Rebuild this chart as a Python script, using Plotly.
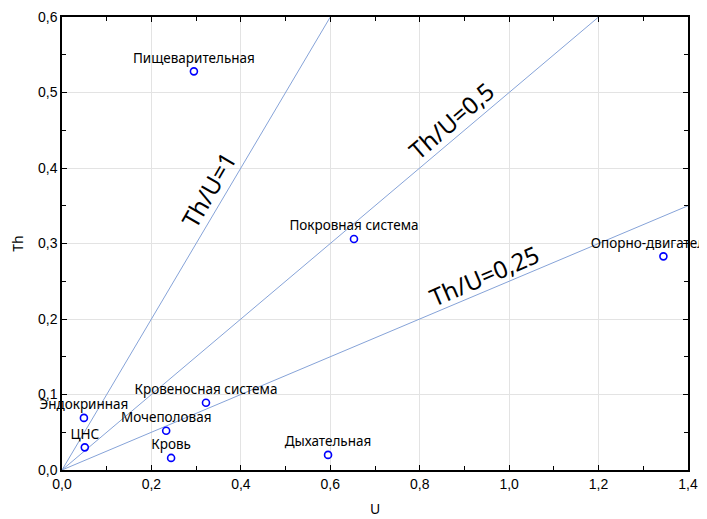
import plotly.graph_objects as go

# systems and their coordinates
systems = ["Пищеварительная", "Покровная система", "Опорно-двигательная",
           "Кровеносная система", "Эндокринная", "Мочеполовая", "ЦНС",
           "Кровь", "Дыхательная"]
u_vals = [0.295, 0.653, 1.345, 0.322, 0.049, 0.233, 0.051, 0.244, 0.595]
th_vals = [0.528, 0.306, 0.283, 0.089, 0.069, 0.052, 0.030, 0.016, 0.020]

# reference ratio lines Th/U
ratios = [1, 0.5, 0.25]
ratio_labels = ["Th/U=1", "Th/U=0,5", "Th/U=0,25"]
label_pos = [(0.327, 0.372, -59.8), (0.870, 0.463, -40.6), (0.944, 0.258, -23.2)]

x_max, y_max = 1.4, 0.6

fig = go.Figure()

for r in ratios:
    x_end = min(x_max, y_max / r)
    fig.add_trace(go.Scatter(
        x=[0, x_end], y=[0, x_end * r], mode="lines",
        line=dict(color="#86a3d8", width=1), hoverinfo="skip"))

fig.add_trace(go.Scatter(
    x=u_vals, y=th_vals, mode="markers+text", text=systems,
    textposition="top center", cliponaxis=False,
    textfont=dict(family="Noto Sans", size=13.5, color="black"),
    marker=dict(symbol="circle-open", size=7, color="#0000ff",
                line=dict(width=1.6, color="#0000ff"))))

for lab, (ax, ay, ang) in zip(ratio_labels, label_pos):
    fig.add_annotation(x=ax, y=ay, text=lab, showarrow=False, textangle=ang,
                       font=dict(family="Noto Sans", size=24, color="black"))

axis_style = dict(
    showline=True, linecolor="black", linewidth=1.5, mirror="ticks",
    ticks="inside", ticklen=5, tickcolor="black", tickwidth=1,
    showgrid=True, gridcolor="#e3e3e3", gridwidth=1, zeroline=False,
    automargin=False, ticklabeloverflow="allow",
    tickfont=dict(family="Liberation Sans", size=14, color="black"),
    title_font=dict(family="Noto Sans", size=14, color="black"),
)

fig.update_xaxes(range=[0, x_max], dtick=0.2, tickformat=".1f", title_text="U",
                 minor=dict(dtick=0.1, ticks="inside", ticklen=4,
                            tickcolor="black", showgrid=False),
                 title_standoff=14, **axis_style)
fig.update_yaxes(range=[0, y_max], dtick=0.1, tickformat=".1f", title_text="Th",
                 minor=dict(dtick=0.05, ticks="inside", ticklen=4,
                            tickcolor="black", showgrid=False),
                 title_standoff=14, **axis_style)

# page body adds 8px offset, so the figure is sized to fit the window
fig.update_layout(
    width=699, height=511, showlegend=False, separators=", ",
    plot_bgcolor="white", paper_bgcolor="white",
    margin=dict(l=54, r=19, t=9, b=49),
)

fig.write_html("out.html")
